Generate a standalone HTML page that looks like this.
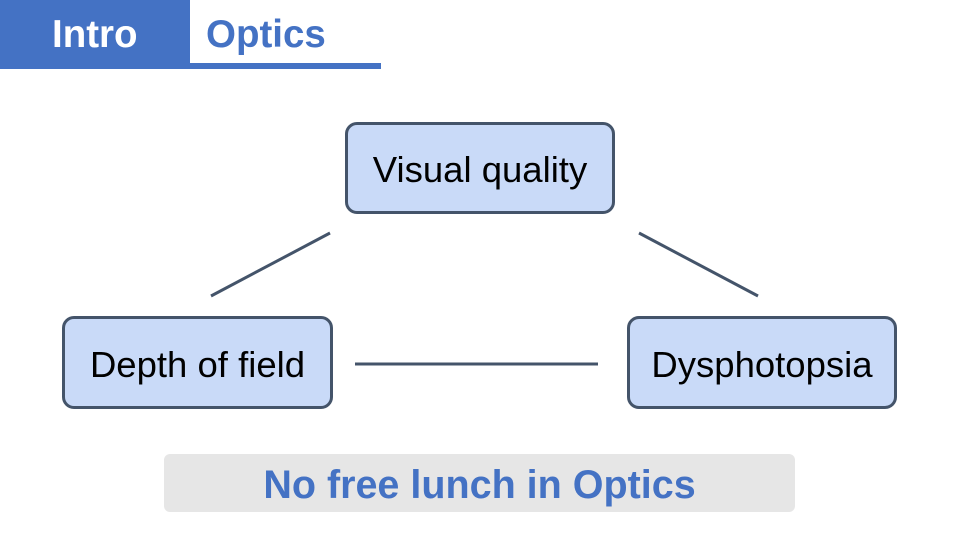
<!DOCTYPE html>
<html><head><style>
body{margin:0;width:960px;height:540px;background:#fff;position:relative;overflow:hidden;font-family:"Liberation Sans",sans-serif}
.b{position:absolute;box-sizing:border-box;background:#c9daf8;border:3px solid #44546a;border-radius:12px;display:flex;align-items:center;justify-content:center;font-size:36.5px;color:#000;padding-top:4px}
</style></head><body>
<div style="position:absolute;left:0;top:0;width:190px;height:69px;background:#4472c4"></div>
<div style="position:absolute;left:190px;top:63px;width:191px;height:6px;background:#4472c4"></div>
<div style="position:absolute;left:52px;top:13px;font-size:38.5px;font-weight:bold;color:#fff">Intro</div>
<div style="position:absolute;left:206px;top:13px;font-size:38.5px;font-weight:bold;color:#4472c4">Optics</div>
<div class="b" style="left:345px;top:122px;width:270px;height:92px">Visual quality</div>
<div class="b" style="left:62px;top:316px;width:271px;height:93px">Depth of field</div>
<div class="b" style="left:627px;top:316px;width:270px;height:93px">Dysphotopsia</div>
<svg style="position:absolute;left:0;top:0" width="960" height="540">
<g stroke="#44546a" stroke-width="3">
<line x1="330" y1="233" x2="211" y2="296"/>
<line x1="639" y1="233" x2="758" y2="296"/>
<line x1="355" y1="364" x2="598" y2="364"/>
</g></svg>
<div style="position:absolute;left:164px;top:454px;width:631px;height:58px;background:#e6e6e6;border-radius:6px;display:flex;align-items:center;justify-content:center;font-size:39.5px;font-weight:bold;color:#4472c4;padding-top:4px;box-sizing:border-box">No free lunch in Optics</div>
</body></html>
